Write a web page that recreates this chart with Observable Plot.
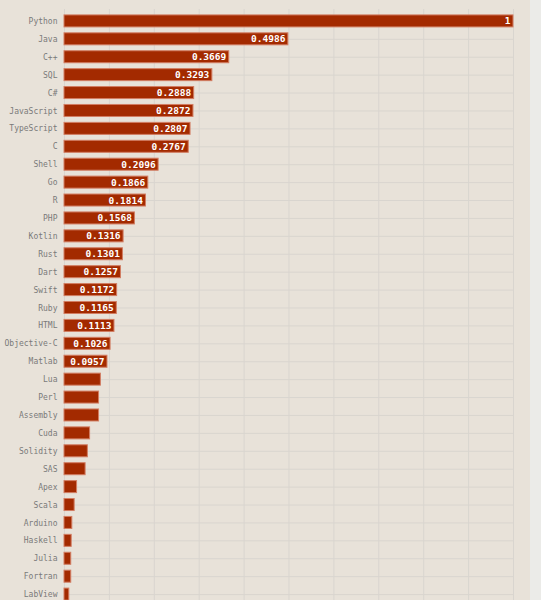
<!DOCTYPE html>
<html>
<head>
<meta charset="utf-8">
<script src="https://cdn.jsdelivr.net/npm/d3@7"></script>
<script src="https://cdn.jsdelivr.net/npm/@observablehq/plot@0.6"></script>
<style>
  html, body { margin: 0; padding: 0; overflow: hidden; background: #ebebe8; }
  #chart { width: 530px; background: #e8e2d9; }
  #chart svg { display: block; }
</style>
</head>
<body>
<div id="chart"></div>
<script>
// lenguajes y su valor relativo (Python = 1)
const lenguajes = ["Python", "Java", "C++", "SQL", "C#", "JavaScript", "TypeScript", "C", "Shell", "Go",
  "R", "PHP", "Kotlin", "Rust", "Dart", "Swift", "Ruby", "HTML", "Objective-C", "Matlab",
  "Lua", "Perl", "Assembly", "Cuda", "Solidity", "SAS", "Apex", "Scala", "Arduino", "Haskell",
  "Julia", "Fortran", "LabView"]
const valores = [1, 0.4986, 0.3669, 0.3293, 0.2888, 0.2872, 0.2807, 0.2767, 0.2096, 0.1866,
  0.1814, 0.1568, 0.1316, 0.1301, 0.1257, 0.1172, 0.1165, 0.1113, 0.1026, 0.0957,
  0.081, 0.077, 0.077, 0.057, 0.052, 0.047, 0.028, 0.0226, 0.0174, 0.016,
  0.015, 0.015, 0.0107]

const data = lenguajes.map((l, i) => ({lenguaje: l, valor: valores[i]}))

let chart = Plot.plot({
  width: 530,
  height: 606,
  marginTop: 9,
  marginBottom: 0,
  marginLeft: 64,
  marginRight: 17,
  style: {background: "#e8e2d9", fontFamily: "DejaVu Sans Mono"},
  x: {domain: [0, 1], axis: null},
  y: {domain: lenguajes, padding: 0.33, round: false, label: null},
  marks: [
    Plot.gridX(d3.range(0, 1.01, 0.1), {stroke: "#d9d5cf", strokeOpacity: 1}),
    Plot.gridY(lenguajes, {stroke: "#d9d5cf", strokeOpacity: 1}),
    Plot.axisY({tickSize: 0, tickPadding: 7, fontSize: 8, fill: "#7a7a7a", label: null}),
    Plot.barX(data, {x: "valor", y: "lenguaje", fill: "#a32a00", stroke: "#d27d62", strokeWidth: 1}),
    Plot.text(data.filter(d => d.valor >= 0.09), {
      x: "valor", y: "lenguaje", text: d => String(d.valor),
      textAnchor: "end", dx: -3, fill: "white", fontWeight: "bold", fontSize: 9.5
    })
  ]
})

d3.select('#chart').append(() => chart)
</script>
</body>
</html>
